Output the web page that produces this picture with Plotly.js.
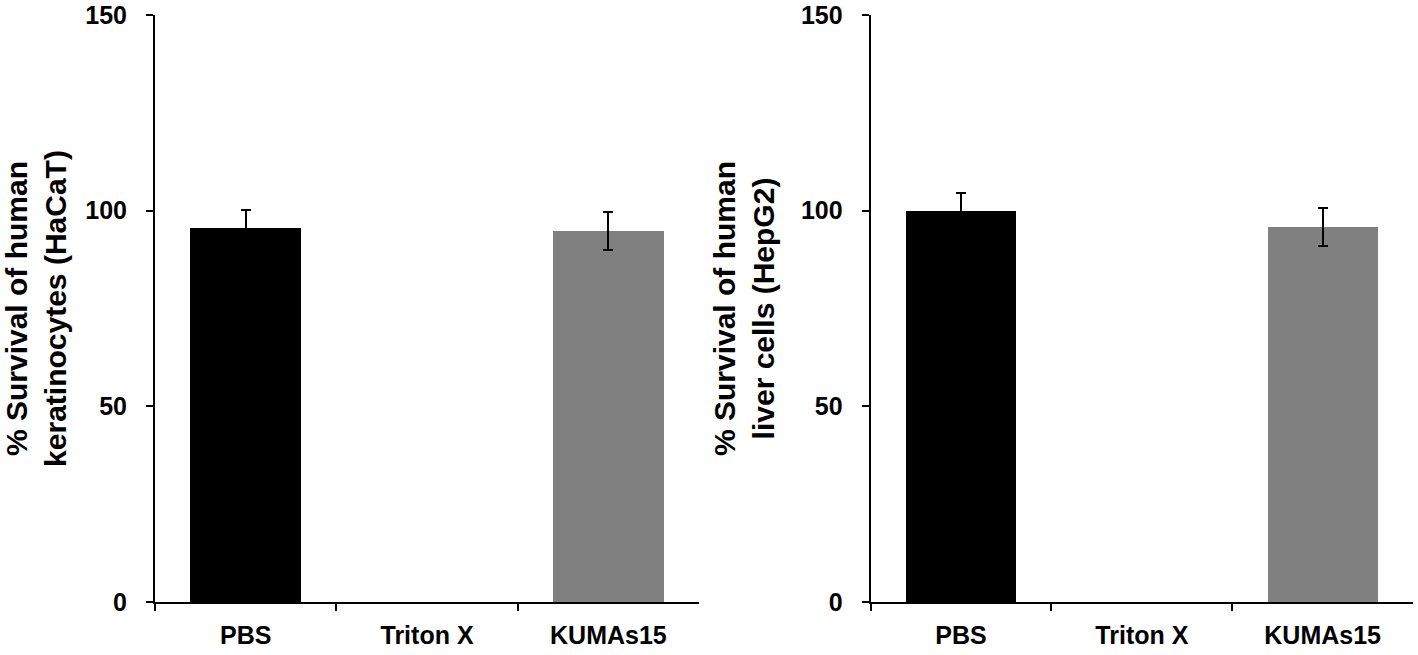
<!DOCTYPE html>
<html>
<head>
<meta charset="utf-8">
<script src="https://cdn.plot.ly/plotly-3.0.1.min.js"></script>
<style>html,body{margin:0;padding:0;background:#fff;}#chart{width:1418px;height:655px;}</style>
</head>
<body>
<div id="chart"></div>
<script>
const categories = ["PBS", "Triton X", "KUMAs15"];
const haCaTValues = [95.5, 0, 94.8];
const haCaTErrors = [4.7, NaN, 4.8];
const hepG2Values = [100, 0, 95.8];
const hepG2Errors = [4.5, NaN, 4.9];
const barColors = ["#000000", "#000000", "#808080"];
const yTickValues = [0, 50, 100, 150];
const leftTitle = "% Survival of human<br>keratinocytes (HaCaT)";
const rightTitle = "% Survival of human<br>liver cells (HepG2)";

const narrow = "Liberation Sans Narrow, Arial Narrow, Liberation Sans, Arial, sans-serif";
const regular = "Liberation Sans, Arial, sans-serif";
const tickFont = {family: narrow, size: 25, color: "#000", weight: "bold"};

function barTrace(vals, errs, xa, ya) {
  return {
    type: "bar", x: categories, y: vals, xaxis: xa, yaxis: ya,
    width: 0.61,
    marker: {color: barColors, line: {width: 0}},
    error_y: {type: "data", array: errs, visible: true, color: "#000", thickness: 2, width: 5},
    hoverinfo: "none", showlegend: false
  };
}

function xAxis(domain, anchor) {
  return {
    domain: domain, anchor: anchor, type: "category", range: [-0.5, 2.5],
    showline: true, linecolor: "#000", linewidth: 2, mirror: false,
    ticks: "outside", tickson: "boundaries", ticklen: 7, tickwidth: 2, tickcolor: "#000",
    ticklabelstandoff: 10,
    showgrid: false, zeroline: false, fixedrange: true,
    tickfont: tickFont
  };
}
function yAxis(anchor, title) {
  return {
    anchor: anchor, domain: [0, 1], range: [0, 150],
    tickvals: yTickValues, ticktext: yTickValues.map(String),
    showline: true, linecolor: "#000", linewidth: 2,
    ticks: "outside", ticklen: 7, tickwidth: 2, tickcolor: "#000",
    ticklabelstandoff: 14,
    showgrid: false, zeroline: false, fixedrange: true,
    tickfont: tickFont,
    title: {text: title, standoff: 17, font: {family: regular, size: 30, color: "#000", weight: "bold"}}
  };
}

const data = [
  barTrace(haCaTValues, haCaTErrors, "x", "y"),
  barTrace(hepG2Values, hepG2Errors, "x2", "y2")
];

const layout = {
  width: 1418, height: 655,
  margin: {l: 0, r: 0, t: 15, b: 53},
  paper_bgcolor: "#fff", plot_bgcolor: "#fff",
  font: {family: regular, color: "#000"},
  bargap: 0,
  xaxis: xAxis([0.1093, 0.493], "y"),
  yaxis: yAxis("x", leftTitle),
  xaxis2: xAxis([0.614, 0.9965], "y2"),
  yaxis2: yAxis("x2", rightTitle)
};

Plotly.newPlot("chart", data, layout, {displayModeBar: false, staticPlot: true});
</script>
</body>
</html>
